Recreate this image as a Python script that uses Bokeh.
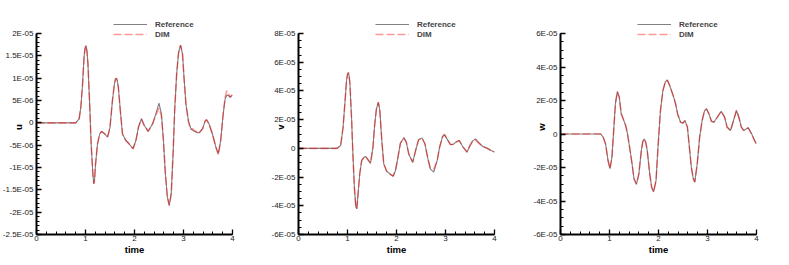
from bokeh.plotting import figure
from bokeh.layouts import row
from bokeh.models import Range1d, FixedTicker, Legend, LegendItem
from bokeh.embed import file_html
from bokeh.resources import INLINE

# values read in units of 1E-05
SCALE = 1e-5

t_u = [0, 0.8, 0.87, 0.905, 0.94, 0.97, 0.99, 1.01, 1.03, 1.05, 1.09, 1.115, 1.15, 1.17, 1.185,
       1.2, 1.245, 1.29, 1.33, 1.395, 1.45, 1.5, 1.55, 1.59, 1.61, 1.63, 1.65, 1.67, 1.71, 1.755,
       1.82, 1.89, 1.97, 2.03, 2.08, 2.14, 2.2, 2.28, 2.37, 2.435, 2.5, 2.55, 2.59, 2.63, 2.67,
       2.71, 2.75, 2.79, 2.82, 2.86, 2.9, 2.94, 2.98, 3.01, 3.05, 3.1, 3.15, 3.18, 3.22, 3.31,
       3.39, 3.44, 3.47, 3.52, 3.59, 3.66, 3.71, 3.76, 3.81, 3.85, 3.885, 3.92, 3.95, 4.0]
u_ref = [0, 0, 0.09, 0.35, 0.87, 1.47, 1.66, 1.73, 1.6, 1.32, 0.28, -0.47, -1.14, -1.36, -1.28,
         -0.99, -0.47, -0.25, -0.19, -0.25, -0.32, -0.1, 0.5, 0.87, 0.97, 1.0, 0.94, 0.8, 0.28, -0.25,
         -0.39, -0.47, -0.58, -0.39, -0.1, 0.09, -0.06, -0.19, -0.02, 0.2, 0.44, 0.2, -0.39, -1.14, -1.66,
         -1.85, -1.58, -0.62, 0.28, 1.09, 1.58, 1.74, 1.54, 1.02, 0.42, 0.05, -0.13, -0.16, -0.19, -0.23,
         -0.13, 0.04, 0.07, -0.02, -0.25, -0.54, -0.69, -0.39, 0.2, 0.54, 0.62, 0.61, 0.57, 0.62]
u_dim = [0, 0, 0.09, 0.35, 0.87, 1.47, 1.66, 1.73, 1.6, 1.32, 0.28, -0.47, -1.14, -1.37, -1.28,
         -0.99, -0.47, -0.25, -0.19, -0.25, -0.32, -0.1, 0.5, 0.87, 0.97, 1.0, 0.94, 0.8, 0.28, -0.25,
         -0.39, -0.47, -0.58, -0.39, -0.1, 0.09, -0.06, -0.19, -0.02, 0.17, 0.33, 0.15, -0.39, -1.14, -1.66,
         -1.85, -1.58, -0.62, 0.28, 1.09, 1.58, 1.74, 1.54, 1.02, 0.42, 0.02, -0.15, -0.13, -0.17, -0.24,
         -0.13, 0.04, 0.07, -0.02, -0.25, -0.54, -0.72, -0.39, 0.2, 0.58, 0.72, 0.66, 0.58, 0.63]

t_v = [0, 0.79, 0.86, 0.91, 0.95, 0.98, 1.0, 1.02, 1.035, 1.05, 1.085, 1.11, 1.14, 1.17, 1.19,
       1.21, 1.25, 1.29, 1.34, 1.37, 1.42, 1.47, 1.52, 1.55, 1.59, 1.63, 1.66, 1.7, 1.74, 1.8,
       1.86, 1.93, 1.98, 2.03, 2.08, 2.15, 2.2, 2.25, 2.33, 2.39, 2.45, 2.52, 2.58, 2.64, 2.69,
       2.76, 2.83, 2.88, 2.94, 2.98, 3.03, 3.1, 3.15, 3.22, 3.28, 3.35, 3.44, 3.5, 3.55, 3.61,
       3.67, 3.76, 3.84, 3.93, 4.0]
v_ref = [0, 0, 0.2, 1.47, 3.3, 4.7, 5.15, 5.28, 5.0, 4.47, 1.94, -0.39, -2.7, -4.08, -4.2,
         -3.4, -1.77, -0.84, -0.61, -0.57, -0.8, -1.03, 0.09, 1.47, 2.74, 3.21, 2.63, 0.55, -1.08, -1.59,
         -1.77, -1.94, -1.54, -0.61, 0.36, 0.73, 0.43, -0.39, -0.97, -0.15, 0.59, 0.73, 0.32, -0.72, -1.43,
         -1.66, -0.85, 0.09, 0.82, 0.96, 0.66, 0.27, 0.27, 0.45, 0.55, 0.13, -0.26, 0.2, 0.5, 0.66,
         0.43, 0.13, 0.02, -0.15, -0.26]
v_dim = [0, 0, 0.2, 1.47, 3.3, 4.7, 5.15, 5.28, 5.0, 4.47, 1.94, -0.39, -2.7, -4.08, -4.2,
         -3.4, -1.77, -0.84, -0.61, -0.57, -0.8, -1.03, 0.09, 1.47, 2.74, 3.21, 2.63, 0.55, -1.08, -1.59,
         -1.77, -1.94, -1.54, -0.61, 0.36, 0.73, 0.43, -0.39, -0.97, -0.15, 0.59, 0.73, 0.32, -0.72, -1.35,
         -1.45, -0.85, 0.09, 0.82, 0.96, 0.66, 0.27, 0.27, 0.45, 0.55, 0.13, -0.26, 0.2, 0.48, 0.6,
         0.38, 0.13, 0.02, -0.15, -0.26]

t_w = [0, 0.82, 0.87, 0.92, 0.97, 1.01, 1.05, 1.09, 1.12, 1.16, 1.2, 1.24, 1.28, 1.33, 1.37,
       1.41, 1.46, 1.5, 1.55, 1.6, 1.65, 1.68, 1.71, 1.74, 1.77, 1.82, 1.86, 1.9, 1.95, 1.99,
       2.04, 2.09, 2.14, 2.18, 2.23, 2.3, 2.35, 2.39, 2.45, 2.5, 2.54, 2.59, 2.63, 2.67, 2.71,
       2.74, 2.79, 2.84, 2.89, 2.94, 2.98, 3.03, 3.08, 3.13, 3.2, 3.28, 3.35, 3.4, 3.47, 3.52,
       3.59, 3.64, 3.69, 3.74, 3.83, 3.9, 3.96, 4.0]
w_ref = [0, 0, -0.19, -0.59, -1.58, -2.07, -1.38, 0.41, 1.8, 2.53, 2.19, 1.2, 0.9, 0.51, -0.03,
         -0.78, -1.77, -2.67, -3.0, -2.37, -0.98, -0.45, -0.29, -0.5, -0.98, -2.37, -3.17, -3.46, -2.77, -0.78,
         1.4, 2.59, 3.12, 3.22, 2.88, 2.29, 1.79, 1.2, 0.7, 0.65, 0.8, 0.41, -0.78, -1.98, -2.67,
         -2.87, -1.78, -0.19, 0.8, 1.4, 1.5, 1.2, 0.76, 0.7, 1.0, 1.36, 1.0, 0.41, 0.21, 0.7,
         1.4, 1.0, 0.41, 0.21, 0.37, 0.01, -0.39, -0.59]
w_dim = [0, 0, -0.19, -0.59, -1.58, -2.07, -1.38, 0.41, 1.8, 2.53, 2.19, 1.2, 0.9, 0.51, -0.03,
         -0.78, -1.77, -2.67, -3.0, -2.37, -0.98, -0.45, -0.29, -0.5, -0.98, -2.37, -3.17, -3.46, -2.77, -0.78,
         1.4, 2.59, 3.12, 3.22, 2.88, 2.29, 1.79, 1.2, 0.7, 0.65, 0.8, 0.41, -0.78, -1.98, -2.67,
         -2.87, -1.78, -0.19, 0.8, 1.4, 1.5, 1.2, 0.76, 0.7, 1.0, 1.36, 1.0, 0.41, 0.21, 0.7,
         1.4, 1.0, 0.41, 0.21, 0.37, 0.01, -0.39, -0.59]

time_ticks = [0, 1, 2, 3, 4]
u_ticks = [2e-05, 1.5e-05, 1e-05, 5e-06, 0, -5e-06, -1e-05, -1.5e-05, -2e-05, -2.5e-05]
u_tick_labels = ["2E-05", "1.5E-05", "1E-05", "5E-06", "0", "-5E-06", "-1E-05", "-1.5E-05", "-2E-05", "-2.5E-05"]
v_ticks = [8e-05, 6e-05, 4e-05, 2e-05, 0, -2e-05, -4e-05, -6e-05]
v_tick_labels = ["8E-05", "6E-05", "4E-05", "2E-05", "0", "-2E-05", "-4E-05", "-6E-05"]
w_ticks = [6e-05, 4e-05, 2e-05, 0, -2e-05, -4e-05, -6e-05]
w_tick_labels = ["6E-05", "4E-05", "2E-05", "0", "-2E-05", "-4E-05", "-6E-05"]
series_names = ["Reference", "DIM"]

FONT = "Liberation Sans"
AXIS_PX = 201      # pixel height of the axis span
EXTRA_PX = 14      # blank frame space above the axis for the legend


def panel(t, ref, dim, ylabel, yticks, ylabels, yminor_step, ylim, border_right, ylabel_standoff):
    span = ylim[1] - ylim[0]
    y_end = ylim[1] + span * EXTRA_PX / AXIS_PX
    p = figure(frame_width=196, frame_height=AXIS_PX + EXTRA_PX, output_backend="svg", toolbar_location=None,
               x_range=Range1d(0, 4), y_range=Range1d(ylim[0], y_end),
               min_border_left=36, min_border_right=border_right, min_border_top=19, min_border_bottom=0)
    p.outline_line_color = None
    p.xgrid.visible = False
    p.ygrid.visible = False

    r_ref = p.line(t, [v * SCALE for v in ref], line_color="#808080", line_width=1.1)
    r_dim = p.line(t, [v * SCALE for v in dim], line_color="#ff0000", line_alpha=0.4, line_width=1.6,
                   line_dash="8 3")

    n_lo = int(round(ylim[0] / yminor_step))
    n_hi = int(round(ylim[1] / yminor_step))
    p.yaxis.ticker = FixedTicker(ticks=yticks, minor_ticks=[i * yminor_step for i in range(n_lo, n_hi + 1)])
    p.yaxis.major_label_overrides = {k: s for k, s in zip(yticks, ylabels)}
    p.yaxis.bounds = ylim
    p.xaxis.ticker = FixedTicker(ticks=time_ticks, minor_ticks=[i * 0.2 for i in range(0, 21)])

    for ax in (p.xaxis[0], p.yaxis[0]):
        ax.axis_line_width = 2
        ax.axis_line_color = "black"
        ax.major_tick_in = 5
        ax.major_tick_out = 0
        ax.minor_tick_in = 3
        ax.minor_tick_out = 0
        ax.major_tick_line_width = 1.3
        ax.minor_tick_line_width = 1
        ax.major_tick_line_color = "black"
        ax.minor_tick_line_color = "black"
        ax.major_label_text_font = FONT
        ax.major_label_text_font_size = "8px"
        ax.major_label_text_color = "#222222"
        ax.axis_label_text_font = FONT
        ax.axis_label_text_font_style = "bold"
        ax.axis_label_text_font_size = "9.5px"
        ax.axis_label_text_color = "black"

    p.xaxis.axis_label = "time"
    p.xaxis.major_label_standoff = 1
    p.xaxis.axis_label_standoff = 0
    p.yaxis.axis_label = ylabel
    p.yaxis.major_label_standoff = 3
    p.yaxis.axis_label_standoff = ylabel_standoff

    leg = Legend(items=[LegendItem(label=series_names[0], renderers=[r_ref]),
                        LegendItem(label=series_names[1], renderers=[r_dim])],
                 location=(77, AXIS_PX + EXTRA_PX - 20))
    leg.padding = 0
    leg.margin = 0
    leg.spacing = 0
    leg.glyph_width = 34
    leg.glyph_height = 10
    leg.label_height = 10
    leg.label_standoff = 8
    leg.label_text_font = FONT
    leg.label_text_font_style = "bold"
    leg.label_text_font_size = "8px"
    leg.border_line_alpha = 0
    leg.background_fill_alpha = 0
    p.add_layout(leg, "center")
    return p


p1 = panel(t_u, u_ref, u_dim, "u", u_ticks, u_tick_labels, 1e-06, (-2.5e-05, 2e-05), 30, -24)
p2 = panel(t_v, v_ref, v_dim, "v", v_ticks, v_tick_labels, 5e-06, (-6e-05, 8e-05), 30, -18)
p3 = panel(t_w, w_ref, w_dim, "w", w_ticks, w_tick_labels, 5e-06, (-6e-05, 6e-05), 29, -17)

layout = row(p1, p2, p3)

open("out.html", "w").write(file_html(layout, INLINE))
